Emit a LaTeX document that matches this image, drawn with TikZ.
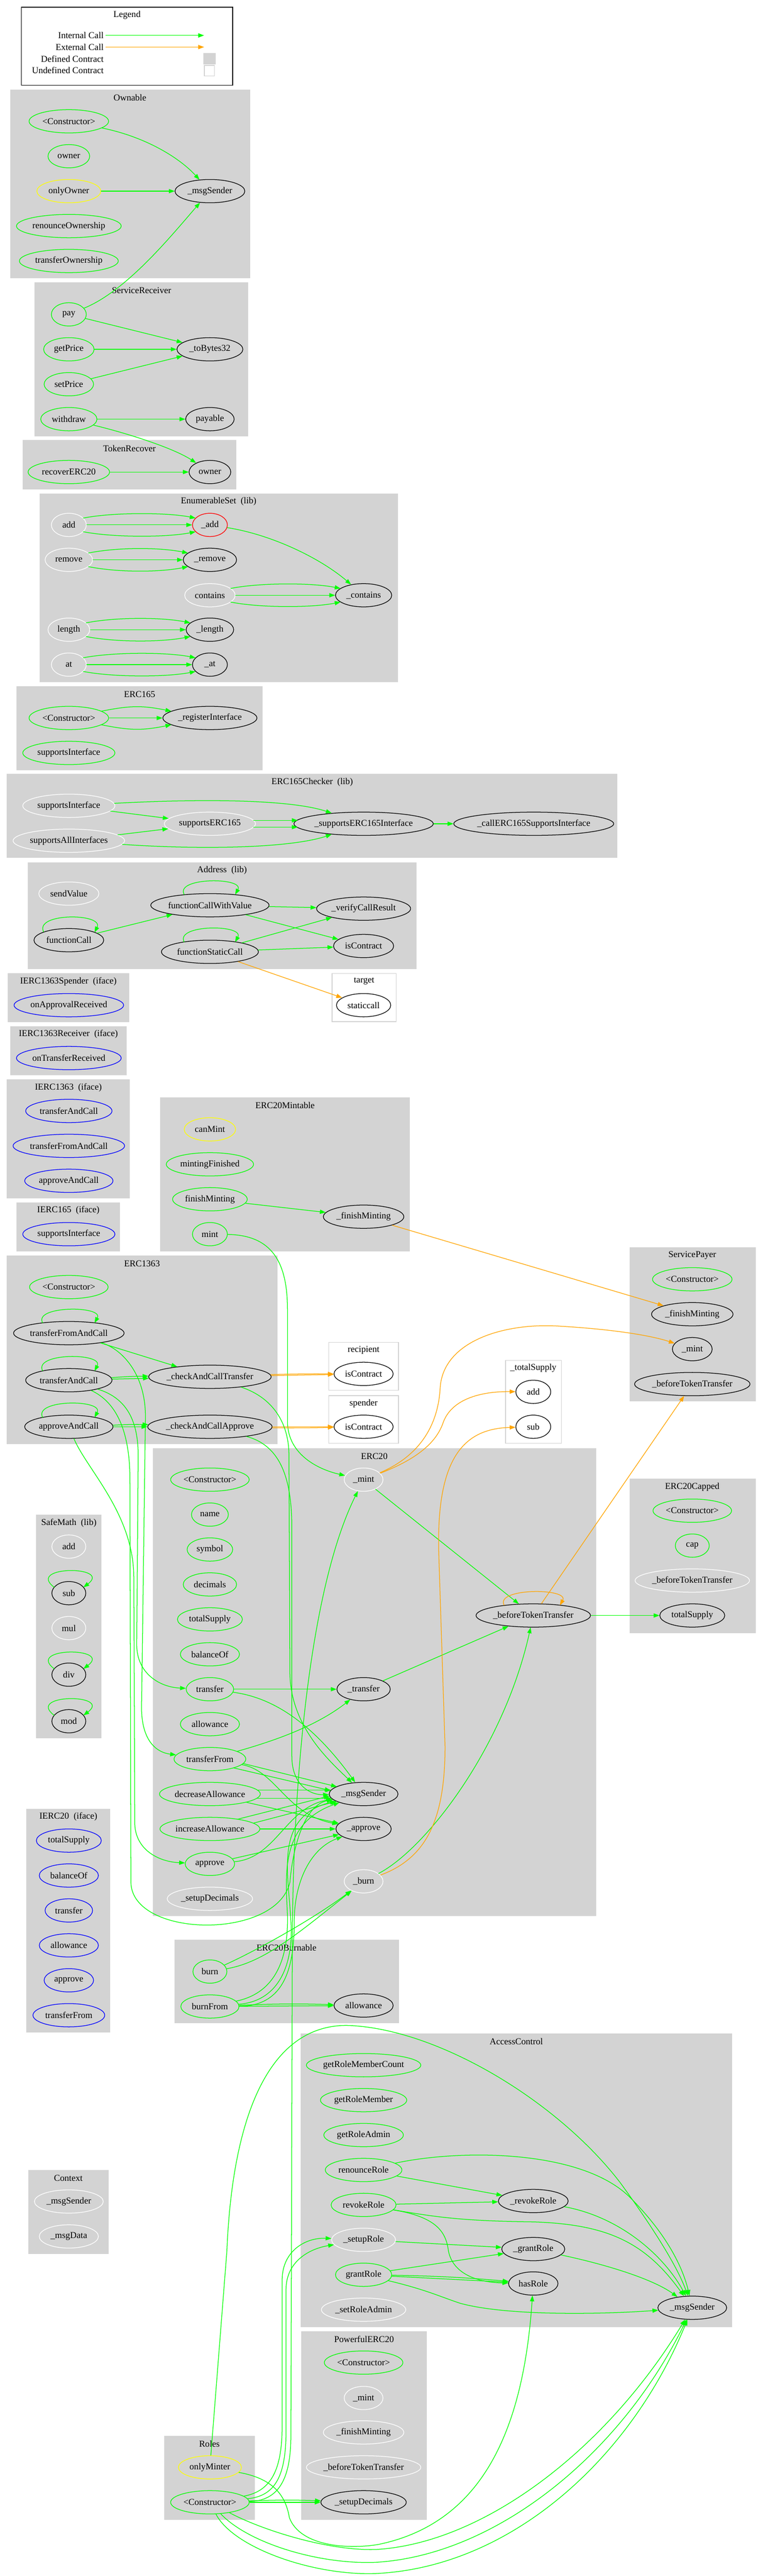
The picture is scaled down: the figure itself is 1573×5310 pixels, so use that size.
\documentclass[tikz,border=0pt]{standalone}
\usepackage{fontspec}
\setmainfont{Liberation Serif}
\usetikzlibrary{shapes.geometric,arrows.meta}
\definecolor{gvgreen}{HTML}{00FF00}
\definecolor{gvorange}{HTML}{FFA500}
\definecolor{gvgray}{HTML}{D3D3D3}
\definecolor{gvyellow}{HTML}{FFFF00}
\definecolor{gvblue}{HTML}{0000FF}
\definecolor{gvred}{HTML}{FF0000}
\newcommand\tripleedge[4]{%
  \draw[ic] ([shift={({0.82*#3},-14)}]#1.center) .. controls +(60,-12) and +(-60,-12) .. ([shift={({-0.82*#4},-14)}]#2.center);
  \draw[ic] (#1) -- (#2);
  \draw[ic] ([shift={({0.82*#3},14)}]#1.center) .. controls +(60,12) and +(-60,12) .. ([shift={({-0.82*#4},14)}]#2.center);}
\begin{document}
\begin{tikzpicture}[x=0.75pt,y=-0.75pt,
  every node/.style={font=\fontsize{14pt}{16pt}\selectfont},
  fn/.style={ellipse, inner sep=0pt, minimum height=36pt, line width=1pt, minimum width={#1*1.5pt}},
  gn/.style={fn=#1, draw=gvgreen},
  bk/.style={fn=#1, draw=black},
  wt/.style={fn=#1, draw=white},
  yw/.style={fn=#1, draw=gvyellow},
  bu/.style={fn=#1, draw=gvblue},
  rdn/.style={fn=#1, draw=gvred},
  cl/.style={fill=gvgray, draw=gvgray, line width=1pt},
  ucl/.style={fill=white, draw=gvgray, line width=1pt},
  ic/.style={draw=gvgreen, line width=1pt, -{Triangle[length=9pt,width=6.5pt]}},
  ec/.style={draw=gvorange, line width=1pt, -{Triangle[length=9pt,width=6.5pt]}}
]
\fill[white] (0,0) rectangle (1573,5310);
\useasboundingbox (0,0) rectangle (1573,5310);

% ---------------- clusters ----------------
\draw[black, line width=1pt] (44,15) rectangle (480,176);
\path[cl] (22,185) rectangle (515,573);
\path[cl] (72,583) rectangle (511,899);
\path[cl] (47,908) rectangle (487,1008);
\path[cl] (82,1018) rectangle (820,1405);
\path[cl] (35,1415) rectangle (541,1587);
\path[cl] (15,1596) rectangle (1273,1768);
\path[cl] (58,1778) rectangle (859,1997);
\path[ucl] (685,2007) rectangle (817,2106);
\path[cl] (17,2007) rectangle (266,2106);
\path[cl] (22,2116) rectangle (261,2216);
\path[cl] (15,2226) rectangle (267,2469);
\path[cl] (35,2479) rectangle (247,2579);
\path[cl] (331,2263) rectangle (845,2579);
\path[cl] (15,2589) rectangle (572,2976);
\path[ucl] (678,2767) rectangle (822,2866);
\path[ucl] (678,2877) rectangle (822,2975);
\path[ucl] (1043,2804) rectangle (1158,2975);
\path[cl] (1299,2572) rectangle (1558,2888);
\path[cl] (316,2986) rectangle (1229,3949);
\path[cl] (1299,3049) rectangle (1558,3366);
\path[cl] (75,3123) rectangle (209,3582);
\path[cl] (55,3729) rectangle (227,4189);
\path[cl] (361,3999) rectangle (822,4170);
\path[cl] (621,4192) rectangle (1510,4796);
\path[cl] (59,4474) rectangle (223,4645);
\path[cl] (622,4806) rectangle (880,5193);
\path[cl] (339,5022) rectangle (525,5193);

% ---------------- cluster labels ----------------
\node (l_leg) at (262,31) {Legend};
\node (l_own) at (268,201) {Ownable};
\node (l_sr) at (292,599) {ServiceReceiver};
\node (l_tr) at (267,924) {TokenRecover};
\node (l_es) at (451,1034) {EnumerableSet\ \ (lib)};
\node (l_e165) at (288,1431) {ERC165};
\node (l_ec) at (644,1612) {ERC165Checker\ \ (lib)};
\node (l_ad) at (458,1794) {Address\ \ (lib)};
\node (l_tg) at (751,2023) {target};
\node (l_isp) at (141,2023) {IERC1363Spender\ \ (iface)};
\node (l_irc) at (141,2132) {IERC1363Receiver\ \ (iface)};
\node (l_i1363) at (141,2242) {IERC1363\ \ (iface)};
\node (l_i165) at (141,2495) {IERC165\ \ (iface)};
\node (l_em) at (588,2279) {ERC20Mintable};
\node (l_e13) at (293,2605) {ERC1363};
\node (l_rc) at (750,2783) {recipient};
\node (l_sd) at (750,2893) {spender};
\node (l_ts) at (1100,2820) {\_totalSupply};
\node (l_sp) at (1428,2588) {ServicePayer};
\node (l_e20) at (772,3002) {ERC20};
\node (l_ecap) at (1428,3065) {ERC20Capped};
\node (l_sm) at (142,3139) {SafeMath\ \ (lib)};
\node (l_ie20) at (141,3745) {IERC20\ \ (iface)};
\node (l_eb) at (591,4015) {ERC20Burnable};
\node (l_ac) at (1065,4208) {AccessControl};
\node (l_cx) at (141,4490) {Context};
\node (l_pe) at (751,4822) {PowerfulERC20};
\node (l_ro) at (432,5038) {Roles};

% ---------------- legend ----------------
\node[anchor=east, inner sep=0pt] (lg_int) at (214,73) {Internal Call};
\node[anchor=east, inner sep=0pt] (lg_ext) at (214,97) {External Call};
\node[anchor=east, inner sep=0pt] (lg_def) at (214,121) {Defined Contract};
\node[anchor=east, inner sep=0pt] (lg_und) at (214,145) {Undefined Contract};
\coordinate (lg_int_end) at (421,73);
\coordinate (lg_ext_end) at (421,97);
\node[fill=gvgray, minimum width=19.5pt, minimum height=18pt, inner sep=0pt] (lg_defbox) at (432,121) {};
\node[fill=white, draw=gvgray, line width=1pt, minimum width=15.5pt, minimum height=16.5pt, inner sep=0pt] (lg_undbox) at (432,146) {};
\draw[ic] ([xshift=3pt]lg_int.east) -- (lg_int_end);
\draw[ec] ([xshift=3pt]lg_ext.east) -- (lg_ext_end);

% ---------------- nodes ----------------
% Ownable
\node[gn=82] (own_ctor) at (142,250) {<Constructor>};
\node[gn=43] (own_owner) at (142,322) {owner};
\node[yw=66] (own_only) at (142,394) {onlyOwner};
\node[gn=108] (own_ren) at (142,466) {renounceOwnership};
\node[gn=102] (own_tr) at (142,538) {transferOwnership};
\node[bk=72] (own_ms) at (433,394) {\_msgSender};
% ServiceReceiver
\node[gn=36] (sr_pay) at (142,648) {pay};
\node[gn=52] (sr_get) at (142,720) {getPrice};
\node[gn=51] (sr_set) at (142,792) {setPrice};
\node[gn=58] (sr_wd) at (142,864) {withdraw};
\node[bk=68] (sr_tb) at (433,720) {\_toBytes32};
\node[bk=50] (sr_payable) at (433,864) {payable};
% TokenRecover
\node[gn=84] (tr_rec) at (142,973) {recoverERC20};
\node[bk=43] (tr_owner) at (433,973) {owner};
% EnumerableSet
\node[wt=36] (es_add) at (142,1082) {add};
\node[rdn=36] (es_addp) at (433,1082) {\_add};
\node[wt=49] (es_rem) at (142,1154) {remove};
\node[bk=55] (es_remp) at (433,1154) {\_remove};
\node[wt=52] (es_con) at (433,1227) {contains};
\node[bk=58] (es_conp) at (750,1227) {\_contains};
\node[wt=43] (es_len) at (142,1298) {length};
\node[bk=49] (es_lenp) at (433,1298) {\_length};
\node[wt=36] (es_at) at (142,1370) {at};
\node[bk=36] (es_atp) at (433,1370) {\_at};
% ERC165
\node[gn=82] (e165_ctor) at (142,1480) {<Constructor>};
\node[bk=97] (e165_reg) at (433,1480) {\_registerInterface};
\node[gn=95] (e165_si) at (142,1552) {supportsInterface};
% ERC165Checker
\node[wt=95] (ec_si) at (142,1661) {supportsInterface};
\node[wt=94] (ec_se) at (433,1698) {supportsERC165};
\node[bk=142] (ec_sei) at (750,1698) {\_supportsERC165Interface};
\node[bk=162] (ec_call) at (1101,1698) {\_callERC165SupportsInterface};
\node[wt=115] (ec_sai) at (142,1733) {supportsAllInterfaces};
% Address
\node[wt=62] (ad_sv) at (142,1842) {sendValue};
\node[bk=122] (ad_fcv) at (433,1866) {functionCallWithValue};
\node[bk=97] (ad_vcr) at (750,1873) {\_verifyCallResult};
\node[bk=72] (ad_fc) at (142,1938) {functionCall};
\node[bk=62] (ad_ic) at (750,1950) {isContract};
\node[bk=100] (ad_fsc) at (433,1962) {functionStaticCall};
% target
\node[bk=56] (tg_sc) at (750,2072) {staticcall};
% interfaces
\node[bu=113] (isp_oar) at (142,2072) {onApprovalReceived};
\node[bu=108] (irc_otr) at (142,2181) {onTransferReceived};
\node[bu=89] (i13_tac) at (142,2290) {transferAndCall};
\node[bu=115] (i13_tfac) at (142,2362) {transferFromAndCall};
\node[bu=91] (i13_aac) at (142,2434) {approveAndCall};
\node[bu=95] (i165_si) at (142,2544) {supportsInterface};
% ERC20Mintable
\node[yw=53] (em_can) at (433,2328) {canMint};
\node[gn=90] (em_mf) at (433,2400) {mintingFinished};
\node[gn=77] (em_fm) at (433,2472) {finishMinting};
\node[gn=36] (em_mint) at (433,2544) {mint};
\node[bk=83] (em_fmp) at (750,2508) {\_finishMinting};
% ERC1363
\node[gn=81] (e13_ctor) at (142,2653) {<Constructor>};
\node[bk=114] (e13_tfac) at (142,2748) {transferFromAndCall};
\node[bk=89] (e13_tac) at (142,2845) {transferAndCall};
\node[bk=91] (e13_aac) at (142,2941) {approveAndCall};
\node[bk=126] (e13_cct) at (433,2838) {\_checkAndCallTransfer};
\node[bk=128] (e13_cca) at (433,2941) {\_checkAndCallApprove};
% recipient / spender
\node[bk=61] (rc_ic) at (750,2832) {isContract};
\node[bk=61] (sd_ic) at (750,2941) {isContract};
% _totalSupply
\node[bk=36] (ts_add) at (1100,2869) {add};
\node[bk=36] (ts_sub) at (1100,2941) {sub};
% ServicePayer
\node[gn=82] (sp_ctor) at (1428,2637) {<Constructor>};
\node[bk=84] (sp_fm) at (1428,2709) {\_finishMinting};
\node[bk=41] (sp_mint) at (1428,2781) {\_mint};
\node[bk=119] (sp_btt) at (1428,2853) {\_beforeTokenTransfer};
% ERC20
\node[gn=81] (e20_ctor) at (433,3050) {<Constructor>};
\node[gn=38] (e20_name) at (433,3122) {name};
\node[gn=47] (e20_sym) at (433,3194) {symbol};
\node[gn=55] (e20_dec) at (433,3266) {decimals};
\node[gn=67] (e20_ts) at (433,3338) {totalSupply};
\node[gn=61] (e20_bo) at (433,3410) {balanceOf};
\node[gn=49] (e20_tr) at (433,3482) {transfer};
\node[gn=61] (e20_al) at (433,3554) {allowance};
\node[gn=74] (e20_tf) at (433,3626) {transferFrom};
\node[gn=104] (e20_da) at (433,3698) {decreaseAllowance};
\node[gn=103] (e20_ia) at (433,3770) {increaseAllowance};
\node[gn=51] (e20_ap) at (433,3842) {approve};
\node[wt=88] (e20_sd) at (433,3914) {\_setupDecimals};
\node[wt=40] (e20_mint) at (750,3050) {\_mint};
\node[bk=55] (e20_trp) at (750,3482) {\_transfer};
\node[bk=71] (e20_ms) at (750,3698) {\_msgSender};
\node[bk=57] (e20_app) at (750,3770) {\_approve};
\node[wt=40] (e20_burn) at (750,3878) {\_burn};
\node[bk=118] (e20_btt) at (1100,3330) {\_beforeTokenTransfer};
% ERC20Capped
\node[gn=81] (ecap_ctor) at (1428,3114) {<Constructor>};
\node[gn=35] (ecap_cap) at (1428,3186) {cap};
\node[wt=118] (ecap_btt) at (1428,3258) {\_beforeTokenTransfer};
\node[bk=67] (ec_ts) at (1428,3330) {totalSupply};
% SafeMath
\node[wt=35] (sm_add) at (142,3188) {add};
\node[bk=35] (sm_sub) at (142,3284) {sub};
\node[wt=35] (sm_mul) at (142,3356) {mul};
\node[bk=35] (sm_div) at (142,3452) {div};
\node[bk=35] (sm_mod) at (142,3548) {mod};
% IERC20
\node[bu=67] (ie_ts) at (142,3794) {totalSupply};
\node[bu=61] (ie_bo) at (142,3866) {balanceOf};
\node[bu=49] (ie_tr) at (142,3938) {transfer};
\node[bu=61] (ie_al) at (142,4010) {allowance};
\node[bu=51] (ie_ap) at (142,4082) {approve};
\node[bu=74] (ie_tf) at (142,4154) {transferFrom};
% ERC20Burnable
\node[gn=35] (eb_burn) at (433,4064) {burn};
\node[gn=60] (eb_bf) at (433,4136) {burnFrom};
\node[bk=61] (eb_allow) at (750,4134) {allowance};
% AccessControl
\node[gn=118] (ac_grmc) at (750,4257) {getRoleMemberCount};
\node[gn=89] (ac_grm) at (750,4329) {getRoleMember};
\node[gn=82] (ac_gra) at (750,4401) {getRoleAdmin};
\node[gn=79] (ac_ren) at (750,4473) {renounceRole};
\node[gn=67] (ac_rev) at (750,4545) {revokeRole};
\node[wt=66] (ac_sr) at (750,4617) {\_setupRole};
\node[gn=58] (ac_gr) at (750,4689) {grantRole};
\node[wt=87] (ac_sra) at (750,4761) {\_setRoleAdmin};
\node[bk=72] (ac_rrp) at (1100,4537) {\_revokeRole};
\node[bk=65] (ac_grp) at (1100,4636) {\_grantRole};
\node[bk=51] (ac_hr) at (1100,4707) {hasRole};
\node[bk=71] (ac_ms) at (1428,4757) {\_msgSender};
% Context
\node[wt=71] (cx_ms) at (142,4538) {\_msgSender};
\node[wt=61] (cx_md) at (142,4610) {\_msgData};
% PowerfulERC20
\node[gn=81] (pe_ctor) at (750,4870) {<Constructor>};
\node[wt=40] (pe_mint) at (750,4943) {\_mint};
\node[wt=83] (pe_fm) at (750,5014) {\_finishMinting};
\node[wt=118] (pe_btt) at (750,5086) {\_beforeTokenTransfer};
\node[bk=88] (pe_sd) at (750,5158) {\_setupDecimals};
% Roles
\node[yw=65] (ro_only) at (433,5086) {onlyMinter};
\node[gn=81] (ro_ctor) at (433,5158) {<Constructor>};

% ---------------- edges ----------------
% Ownable / ServiceReceiver / TokenRecover
\draw[ic] (own_ctor) .. controls (300,282) and (370,325) .. (own_ms);
\draw[ic] (own_only) -- (own_ms);
\draw[ic] (sr_pay) .. controls (260,600) and (350,490) .. (own_ms);
\draw[ic] (sr_pay) -- (sr_tb);
\draw[ic] (sr_get) -- (sr_tb);
\draw[ic] (sr_set) -- (sr_tb);
\draw[ic] (sr_wd) -- (sr_payable);
\draw[ic] (sr_wd) .. controls (270,895) and (360,925) .. (tr_owner);
\draw[ic] (tr_rec) -- (tr_owner);
% EnumerableSet
\tripleedge{es_add}{es_addp}{36}{36}
\tripleedge{es_rem}{es_remp}{49}{55}
\tripleedge{es_con}{es_conp}{52}{58}
\tripleedge{es_len}{es_lenp}{43}{49}
\tripleedge{es_at}{es_atp}{36}{36}
\draw[ic] (es_addp) .. controls (560,1102) and (660,1150) .. (es_conp);
% ERC165
\tripleedge{e165_ctor}{e165_reg}{82}{97}
% ERC165Checker
\draw[ic] (ec_si) -- (ec_se);
\draw[ic] (ec_si) .. controls (420,1646) and (600,1648) .. (ec_sei);
\draw[ic] ([shift={(90,-7)}]ec_se.center) -- ([shift={(-136,-7)}]ec_sei.center);
\draw[ic] ([shift={(90,7)}]ec_se.center) -- ([shift={(-136,7)}]ec_sei.center);
\draw[ic] (ec_sai) -- (ec_se);
\draw[ic] (ec_sai) .. controls (420,1752) and (600,1748) .. (ec_sei);
\draw[ic] (ec_sei) -- (ec_call);
% Address
\draw[ic] ([shift={(-53,-22)}]ad_fcv.center) .. controls +(-20,-36) and +(20,-36) .. ([shift={(52,-22)}]ad_fcv.center);
\draw[ic] ([shift={(-52,-17)}]ad_fc.center) .. controls +(-20,-40) and +(20,-40) .. ([shift={(53,-16)}]ad_fc.center);
\draw[ic] ([shift={(-53,-20)}]ad_fsc.center) .. controls +(-20,-37) and +(20,-37) .. ([shift={(52,-20)}]ad_fsc.center);
\draw[ic] (ad_fc) -- (ad_fcv);
\draw[ic] (ad_fcv) -- (ad_vcr);
\draw[ic] (ad_fcv) -- (ad_ic);
\draw[ic] (ad_fsc) -- (ad_vcr);
\draw[ic] (ad_fsc) -- (ad_ic);
\draw[ec] (ad_fsc) -- (tg_sc);
% ERC20Mintable
\draw[ic] (em_fm) -- (em_fmp);
\draw[ec] (em_fmp) -- (sp_fm);
\draw[ic] (em_mint) .. controls (560,2546) and (593,2600) .. (593,2700) -- (593,2930) .. controls (593,3000) and (660,3030) .. (e20_mint);
% ERC1363
\draw[ic] ([shift={(-54,-21)}]e13_tfac.center) .. controls +(-20,-36) and +(20,-36) .. ([shift={(53,-21)}]e13_tfac.center);
\draw[ic] ([shift={(-54,-19)}]e13_tac.center) .. controls +(-20,-38) and +(20,-38) .. ([shift={(53,-19)}]e13_tac.center);
\draw[ic] ([shift={(-54,-19)}]e13_aac.center) .. controls +(-20,-38) and +(20,-38) .. ([shift={(53,-19)}]e13_aac.center);
\draw[ic] (e13_tfac) -- (e13_cct);
\draw[ic] (e13_tac) -- (e13_cct);
\draw[ic] (e13_tac) to[bend left=2] (e13_cct);
\draw[ic] (e13_aac) -- (e13_cca);
\draw[ic] (e13_aac) to[bend left=2] (e13_cca);
\draw[ec] (e13_cct) -- (rc_ic);
\draw[ec] (e13_cct) to[bend left=1] (rc_ic);
\draw[ec] (e13_cca) -- (sd_ic);
\draw[ec] (e13_cca) to[bend right=1] (sd_ic);
\draw[ic] (e13_tfac) .. controls (250,2780) and (300,2830) .. (300,2920) -- (292,3520) .. controls (292,3585) and (320,3612) .. (e20_tf);
\draw[ic] (e13_tac) .. controls (255,2880) and (285,2920) .. (285,3000) -- (282,3390) .. controls (282,3450) and (330,3478) .. (e20_tr);
\draw[ic] (e13_aac) .. controls (180,3030) and (275,3120) .. (276,3250) -- (278,3760) .. controls (280,3815) and (330,3838) .. (e20_ap);
\draw[ic] (e13_tac) .. controls (240,2890) and (268,2950) .. (268,3050) -- (270,3880) .. controls (272,3995) and (570,4000) .. (598,3880) .. controls (605,3800) and (630,3720) .. (e20_ms);
\draw[ic] (e13_cct) .. controls (560,2880) and (596,2930) .. (596,3000) -- (598,3450) .. controls (600,3560) and (680,3630) .. (e20_ms);
\draw[ic] (e13_cca) .. controls (580,2980) and (602,3050) .. (602,3150) -- (602,3620) .. controls (602,3680) and (640,3700) .. (e20_ms);
% ERC20
\draw[ic] (e20_mint) -- (e20_btt);
\draw[ec] (e20_mint) .. controls (880,3000) and (905,2960) .. (915,2930) .. controls (935,2880) and (1000,2868) .. (ts_add);
\draw[ec] (e20_mint) .. controls (880,2995) and (905,2920) .. (908,2860) .. controls (915,2760) and (1050,2725) .. (1160,2734) .. controls (1260,2740) and (1340,2752) .. (sp_mint);
\draw[ec] ([shift={(-60,-21)}]e20_btt.center) .. controls +(-20,-36) and +(20,-36) .. ([shift={(55,-21)}]e20_btt.center);
\draw[ec] (e20_btt) -- (sp_btt);
\draw[ic] (e20_btt) -- (ec_ts);
\draw[ic] (e20_tr) -- (e20_trp);
\draw[ic] (e20_tr) .. controls (570,3500) and (650,3560) .. (e20_ms);
\draw[ic] (e20_trp) -- (e20_btt);
\draw[ic] (e20_tf) .. controls (560,3590) and (650,3560) .. (e20_trp);
\draw[ic] ([shift={(68,9)}]e20_tf.center) -- ([shift={(-55,-15)}]e20_ms.center);
\draw[ic] ([shift={(48,18)}]e20_tf.center) -- ([shift={(-68,-7)}]e20_ms.center);
\draw[ic] (e20_tf) .. controls (570,3650) and (590,3740) .. (e20_app);
\draw[ic] ([shift={(98,-8)}]e20_da.center) -- ([shift={(-67,-8)}]e20_ms.center);
\draw[ic] ([shift={(96,9)}]e20_da.center) -- ([shift={(-66,9)}]e20_ms.center);
\draw[ic] (e20_da) -- (e20_app);
\draw[ic] ([shift={(57,-20)}]e20_ia.center) -- ([shift={(-70,4)}]e20_ms.center);
\draw[ic] ([shift={(90,-12)}]e20_ia.center) -- ([shift={(-55,15)}]e20_ms.center);
\draw[ic] (e20_ia) -- (e20_app);
\draw[ic] (e20_ap) -- (e20_app);
\draw[ic] (e20_ap) .. controls (570,3830) and (590,3725) .. (e20_ms);
\draw[ic] (e20_burn) .. controls (880,3810) and (1040,3600) .. (e20_btt);
\draw[ec] (e20_burn) .. controls (880,3830) and (918,3750) .. (918,3600) -- (905,3200) .. controls (900,3000) and (960,2945) .. (ts_sub);
% SafeMath loops
\draw[ic] ([shift={(-30,-12)}]sm_sub.center) .. controls +(-60,-45) and +(60,-45) .. ([shift={(30,-12)}]sm_sub.center);
\draw[ic] ([shift={(-30,-12)}]sm_div.center) .. controls +(-60,-45) and +(60,-45) .. ([shift={(30,-12)}]sm_div.center);
\draw[ic] ([shift={(-30,-12)}]sm_mod.center) .. controls +(-60,-45) and +(60,-45) .. ([shift={(30,-12)}]sm_mod.center);
% ERC20Burnable
\draw[ic] (eb_burn) .. controls (520,4025) and (640,3960) .. (e20_burn);
\draw[ic] (eb_burn) .. controls (545,4045) and (615,3985) .. (e20_burn);
\draw[ic] (eb_bf) -- (eb_allow);
\draw[ic] (eb_bf) to[bend left=2] (eb_allow);
\draw[ic] (eb_bf) .. controls (560,4110) and (595,4050) .. (593,3950) .. controls (590,3870) and (575,3760) .. (e20_ms);
\draw[ic] (eb_bf) .. controls (575,4125) and (606,4050) .. (600,3960) .. controls (595,3860) and (565,3745) .. (e20_ms);
\draw[ic] (eb_bf) .. controls (585,4135) and (607,4060) .. (607,3960) .. controls (607,3880) and (640,3810) .. (e20_app);
% AccessControl
\draw[ic] (ac_ren) -- (ac_rrp);
\draw[ic] (ac_ren) .. controls (950,4430) and (1200,4430) .. (1300,4530) .. controls (1380,4610) and (1410,4680) .. (ac_ms);
\draw[ic] (ac_rev) -- (ac_rrp);
\draw[ic] (ac_rev) .. controls (900,4570) and (920,4600) .. (925,4640) .. controls (935,4690) and (990,4705) .. (ac_hr);
\draw[ic] (ac_rev) .. controls (900,4570) and (950,4578) .. (1100,4580) .. controls (1250,4585) and (1330,4620) .. (ac_ms);
\draw[ic] (ac_rrp) .. controls (1280,4570) and (1370,4650) .. (ac_ms);
\draw[ic] (ac_sr) -- (ac_grp);
\draw[ic] (ac_gr) -- (ac_grp);
\draw[ic] (ac_gr) -- (ac_hr);
\draw[ic] (ac_gr) to[bend left=2] (ac_hr);
\draw[ic] (ac_gr) .. controls (880,4720) and (910,4735) .. (950,4748) .. controls (1050,4775) and (1250,4770) .. (ac_ms);
\draw[ic] (ac_grp) .. controls (1260,4670) and (1350,4700) .. (ac_ms);
% Roles
\draw[ic] (ro_only) -- (468,4640) .. controls (480,4350) and (560,4175) .. (715,4175) .. controls (900,4180) and (1150,4330) .. (1280,4500) .. controls (1360,4610) and (1400,4680) .. (ac_ms);
\draw[ic] (ro_only) .. controls (570,5110) and (590,5150) .. (597,5190) .. controls (620,5250) and (720,5255) .. (780,5245) .. controls (1000,5200) and (1080,5000) .. (ac_hr);
\draw[ic] (ro_ctor) .. controls (540,5215) and (680,5260) .. (780,5255) .. controls (1000,5240) and (1250,5050) .. (ac_ms);
\draw[ic] (ro_ctor) .. controls (510,5240) and (650,5285) .. (770,5282) .. controls (1020,5270) and (1280,5060) .. (ac_ms);
\draw[ic] (ro_ctor) .. controls (480,5250) and (640,5308) .. (770,5305) .. controls (1050,5295) and (1300,5070) .. (ac_ms);
\draw[ic] (ro_ctor) -- (pe_sd);
\draw[ic] (ro_ctor) to[bend left=2] (pe_sd);
\draw[ic] (ro_ctor) .. controls (560,5135) and (582,5090) .. (582,5000) -- (582,4700) .. controls (582,4640) and (630,4612) .. (ac_sr);
\draw[ic] (ro_ctor) .. controls (570,5145) and (590,5100) .. (590,5010) -- (590,4720) .. controls (590,4660) and (640,4635) .. (ac_sr);
\draw[ic] (ro_ctor) .. controls (575,5155) and (600,5110) .. (600,5020) -- (603,4000) .. controls (605,3600) and (650,3250) .. (e20_mint);
\end{tikzpicture}
\end{document}
